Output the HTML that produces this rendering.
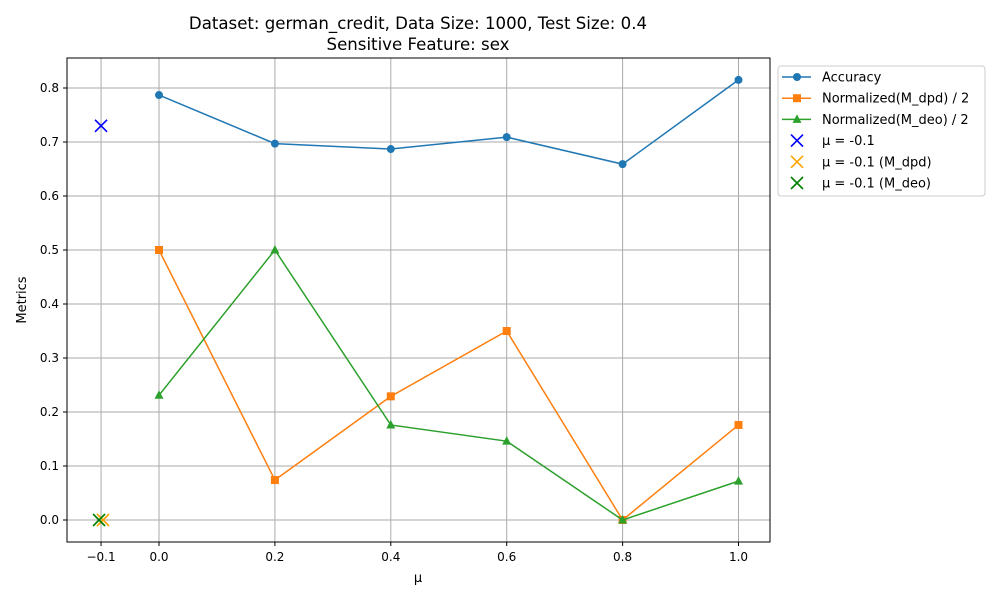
<!DOCTYPE html>
<html><head><meta charset="utf-8"><style>
body{margin:0;background:#fff;}
svg text{font-family:"DejaVu Sans","Liberation Sans",sans-serif;fill:#000;}
</style></head><body>
<svg id="chart" width="1000" height="600" xmlns="http://www.w3.org/2000/svg">
<rect width="1000" height="600" fill="#fff"/>
<g id="grid"></g>
<g id="series"></g>
<rect x="67" y="58" width="703" height="484" fill="none" stroke="#000" stroke-width="1"/>
<g id="ticks"></g>
<text x="418" y="29" font-size="16.6" text-anchor="middle">Dataset: german_credit, Data Size: 1000, Test Size: 0.4</text>
<text x="418" y="50" font-size="16.6" text-anchor="middle">Sensitive Feature: sex</text>
<text x="418" y="582" font-size="13" text-anchor="middle">μ</text>
<text x="26" y="300" font-size="13" text-anchor="middle" transform="rotate(-90 26 300)">Metrics</text>
<g id="legend">
<rect x="778" y="66" width="207" height="130" rx="3" fill="#fff" stroke="#ccc"/>
</g>
</svg>
<script>
const xs = [0.0, 0.2, 0.4, 0.6, 0.8, 1.0];
const accuracy = [0.787, 0.697, 0.687, 0.709, 0.659, 0.815];
const dpd = [0.5, 0.074, 0.229, 0.35, 0.0, 0.176];
const deo = [0.231, 0.5, 0.176, 0.146, 0.0, 0.072];
const baselineMu = -0.1;
const baselineAcc = 0.73;
const baselineDpd = 0.0;
const baselineDeo = 0.0;
const xTicks = [-0.1, 0.0, 0.2, 0.4, 0.6, 0.8, 1.0];
const xTickLabels = ["−0.1", "0.0", "0.2", "0.4", "0.6", "0.8", "1.0"];
const yTicks = [0.0, 0.1, 0.2, 0.3, 0.4, 0.5, 0.6, 0.7, 0.8];

const X = v => 159 + v * 579.5;
const Y = v => 520 - v * 540;
const NS = "http://www.w3.org/2000/svg";
function mk(tag, attrs, parent) {
  const e = document.createElementNS(NS, tag);
  for (const k in attrs) e.setAttribute(k, attrs[k]);
  parent.appendChild(e);
  return e;
}
const grid = document.getElementById('grid'), ticks = document.getElementById('ticks'), ser = document.getElementById('series');
xTicks.forEach((t, i) => {
  const g = mk('line', {x1: X(t), x2: X(t), y1: 58, y2: 542, stroke: '#aaaaaa', 'stroke-width': 1}, grid);
  
  
  mk('line', {x1: X(t), x2: X(t), y1: 542, y2: 546, stroke: '#000'}, ticks);
  const tx = mk('text', {x: X(t), y: 561, 'font-size': 12, 'text-anchor': 'middle'}, ticks);
  tx.textContent = xTickLabels[i];
  
  
});
yTicks.forEach(t => {
  const g = mk('line', {x1: 67, x2: 770, y1: Y(t), y2: Y(t), stroke: '#aaaaaa', 'stroke-width': 1}, grid);
  
  
  mk('line', {x1: 63, x2: 67, y1: Y(t), y2: Y(t), stroke: '#000'}, ticks);
  const tx = mk('text', {x: 59, y: Y(t) + 4, 'font-size': 12, 'text-anchor': 'end'}, ticks);
  tx.textContent = t.toFixed(1);
  
  
});
function marker(type, cx, cy, color, parent) {
  let m;
  if (type === 'o') m = mk('circle', {cx, cy, r: 4, fill: color}, parent);
  else if (type === 's') m = mk('rect', {x: cx - 4, y: cy - 4, width: 8, height: 8, fill: color}, parent);
  else if (type === '^') m = mk('polygon', {points: `${cx},${cy-5} ${cx-4.5},${cy+3.5} ${cx+4.5},${cy+3.5}`, fill: color}, parent);
  else m = mk('path', {d: `M${cx-6},${cy-6}L${cx+6},${cy+6}M${cx-6},${cy+6}L${cx+6},${cy-6}`, stroke: color, 'stroke-width': 1.6, fill: 'none'}, parent);
  return m;
}
function series(vals, color, type, name) {
  const pl = mk('polyline', {points: xs.map((x, i) => X(x) + ',' + Y(vals[i])).join(' '), fill: 'none', stroke: color, 'stroke-width': 1.5}, ser);
  
  
  xs.forEach((x, i) => {
    const m = marker(type, X(x), Y(vals[i]), color, ser);
    
    
  });
}
series(accuracy, '#1f77b4', 'o', 'accuracy');
series(dpd, '#ff7f0e', 's', 'dpd');
series(deo, '#2ca02c', '^', 'deo');
let b1 = marker('x', X(baselineMu), Y(baselineAcc), 'blue', ser);


let b2 = marker('x', X(baselineMu) + 2, Y(baselineDpd), 'orange', ser);


let b3 = marker('x', X(baselineMu) - 2, Y(baselineDeo), 'green', ser);



const leg = document.getElementById('legend');
const entries = [
  ['Accuracy', '#1f77b4', 'o', true], ['Normalized(M_dpd) / 2', '#ff7f0e', 's', true],
  ['Normalized(M_deo) / 2', '#2ca02c', '^', true], ['μ = -0.1', 'blue', 'x', false],
  ['μ = -0.1 (M_dpd)', 'orange', 'x', false], ['μ = -0.1 (M_deo)', 'green', 'x', false]
];
entries.forEach((e, i) => {
  const y = 77 + i * 21.2;
  const g = mk('g', {}, leg);
  
  
  if (e[3]) mk('line', {x1: 782, x2: 811, y1: y, y2: y, stroke: e[1], 'stroke-width': 1.5}, g);
  marker(e[2], 797, y, e[1], g);
  const t = mk('text', {x: 822, y: y + 4.5, 'font-size': 13}, g);
  t.textContent = e[0];
});
</script>
</body></html>
